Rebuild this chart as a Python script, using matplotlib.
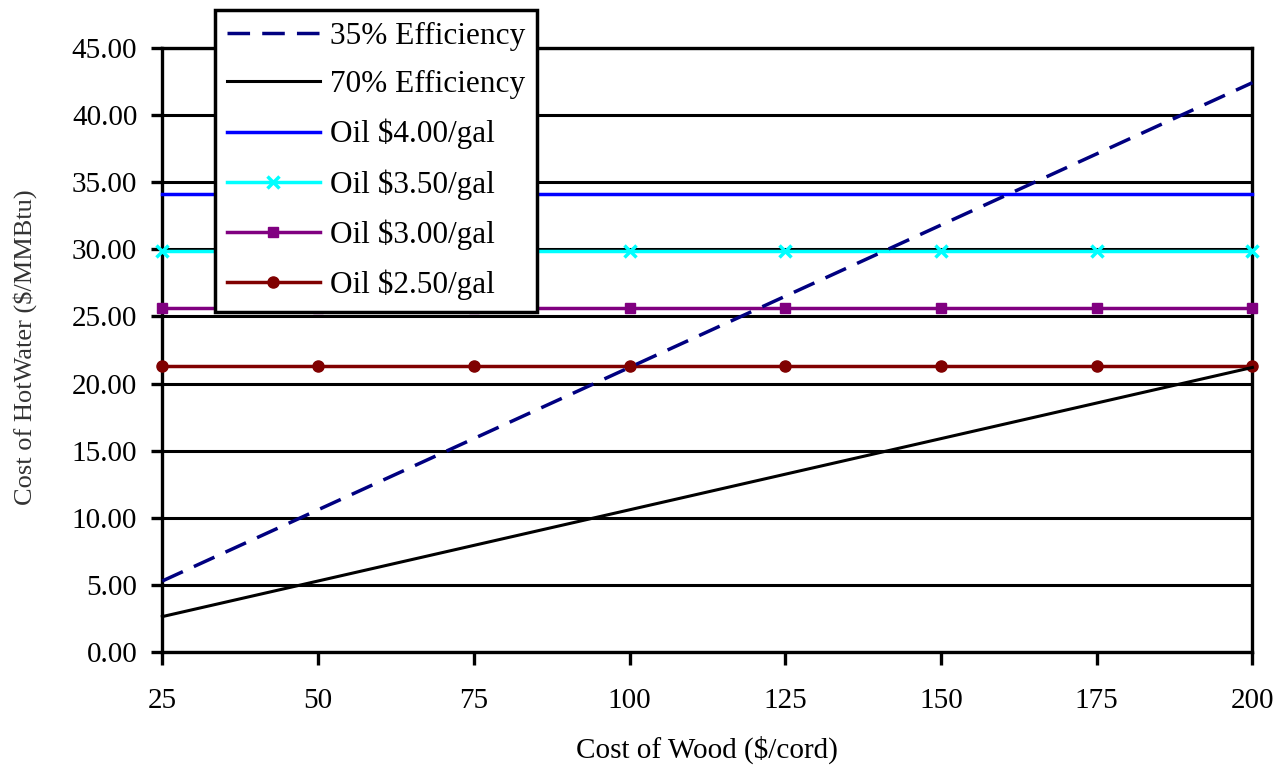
import matplotlib
matplotlib.use('Agg')
import matplotlib.pyplot as plt

plt.rcParams['font.family'] = ['Liberation Serif', 'DejaVu Serif']

# Cost of wood ($/cord)
drvo = [25, 50, 75, 100, 125, 150, 175, 200]

# Cost of hot water ($/MMBtu)
eff_35 = [5.3, 10.6, 15.9, 21.2, 26.5, 31.8, 37.1, 42.4]
eff_70 = [2.65, 5.3, 7.95, 10.6, 13.25, 15.9, 18.55, 21.2]
oil_400 = [34.1] * 8
oil_350 = [29.9] * 8
oil_300 = [25.6] * 8
oil_250 = [21.3] * 8

y_ticks = [0, 5, 10, 15, 20, 25, 30, 35, 40, 45]

fig = plt.figure(figsize=(12.78, 7.70), dpi=100)
ax = fig.add_axes([0.127, 0.153, 0.853, 0.785])

ax.plot(drvo, eff_35, color='#000080', lw=2.5, linestyle=(0, (6.5, 3.5)),
        label='35% Efficiency', clip_on=False, zorder=5)
ax.plot(drvo, eff_70, color='black', lw=2.2, label='70% Efficiency',
        clip_on=False, zorder=5)
ax.plot(drvo, oil_400, color='#0000FF', lw=2.5, label='Oil $4.00/gal',
        clip_on=False, zorder=4)
ax.plot(drvo, oil_350, color='#00FFFF', lw=2.5, marker='x', ms=9, mew=2.5,
        label='Oil $3.50/gal', clip_on=False, zorder=4)
ax.plot(drvo, oil_300, color='#800080', lw=2.5, marker='s', ms=7,
        label='Oil $3.00/gal', clip_on=False, zorder=4)
ax.plot(drvo, oil_250, color='#800000', lw=2.5, marker='o', ms=8,
        label='Oil $2.50/gal', clip_on=False, zorder=4)

ax.set_xlim(25, 200)
ax.set_ylim(0, 45)
ax.set_xticks(drvo)
ax.set_yticks(y_ticks)
ax.set_yticklabels([f'{v:.2f}' for v in y_ticks])

ax.grid(axis='y', color='black', lw=2.2)
ax.set_axisbelow(True)
for s in ax.spines.values():
    s.set_linewidth(2.4)
    s.set_color('black')

ax.tick_params(axis='x', direction='out', length=9, width=2.4, pad=17, labelsize=21)
ax.tick_params(axis='y', direction='out', length=8, width=2.4, pad=10, labelsize=21)

ax.set_xlabel('Cost of Wood ($/cord)', fontsize=21, va='center')
ax.xaxis.set_label_coords(0.5, -0.162)
ax.set_ylabel('Cost of HotWater ($/MMBtu)', fontsize=19, va='center', color='#333333')
ax.yaxis.set_label_coords(-0.1256, 0.505)

leg = fig.legend(loc='upper left', bbox_to_anchor=(215 / 1278, 1 - 10 / 770),
                 fontsize=22.5, frameon=True, fancybox=False, framealpha=1,
                 edgecolor='black', handlelength=3.0, handletextpad=0.3,
                 labelspacing=0.63, borderpad=0.37, borderaxespad=0)
leg.get_frame().set_linewidth(2.5)

fig.savefig('out.png', dpi=100)
